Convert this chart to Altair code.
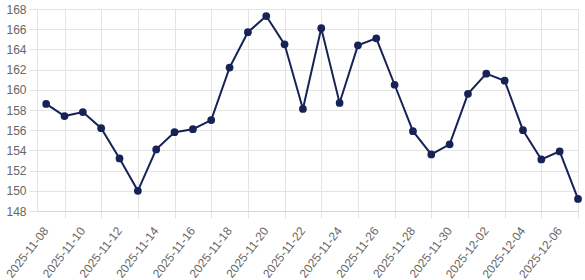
import altair as alt
import pandas as pd

dates = pd.date_range("2025-11-07", "2025-12-06", freq="D").strftime("%Y-%m-%d").tolist()
values = [158.6, 157.4, 157.8, 156.2, 153.2, 150.0, 154.1, 155.8, 156.1, 157.0,
          162.2, 165.7, 167.3, 164.5, 158.1, 166.1, 158.7, 164.4, 165.1, 160.5,
          155.9, 153.6, 154.6, 159.6, 161.6, 160.9, 156.0, 153.1, 153.9, 149.2]
tick_dates = dates[1::2]
y_ticks = list(range(148, 169, 2))

df = pd.DataFrame({"date": dates, "value": values})

def dt(s, hours=0):
    y, m, d = (int(p) for p in s.split("-"))
    return alt.DateTime(year=y, month=m, date=d, hours=hours, utc=True)

color = "#172357"
grid = "#e4e4e4"

x = alt.X(
    "date:T",
    scale=alt.Scale(type="utc", domain=[dt("2025-11-06", 12), dt("2025-12-06")]),
    axis=alt.Axis(
        title=None,
        values=[dt(s) for s in tick_dates],
        labelExpr="utcFormat(datum.value, '%Y-%m-%d')",
        labelAngle=-52,
        labelAlign="right",
        labelBaseline="middle",
        labelOffset=-19,
        labelPadding=10,
        labelFont="Liberation Sans",
        labelFontSize=12,
        labelColor="#666666",
        labelOverlap=False,
        labelFlush=False,
        tickSize=7,
        tickColor=grid,
        gridColor=grid,
        domainColor="#d6d6d6",
    ),
)
y = alt.Y(
    "value:Q",
    scale=alt.Scale(domain=[148, 168], nice=False, zero=False),
    axis=alt.Axis(
        title=None,
        values=y_ticks,
        labelFont="Liberation Sans",
        labelFontSize=12,
        labelColor="#666666",
        labelPadding=3,
        tickSize=8,
        tickColor=grid,
        gridColor=grid,
        domainColor=grid,
    ),
)

chart = (
    alt.Chart(df)
    .mark_line(color=color, strokeWidth=2,
               point=alt.OverlayMarkDef(color=color, size=60, filled=True, opacity=1))
    .encode(x=x, y=y)
    .properties(width=541, height=202, autosize=alt.AutoSizeParams(type="none"),
                padding={"left": 37, "top": 9, "right": 7, "bottom": 69})
    .configure_view(stroke=None)
    .configure(background="white")
)

chart.save("out.html", embed_options={"renderer": "svg", "actions": False})
